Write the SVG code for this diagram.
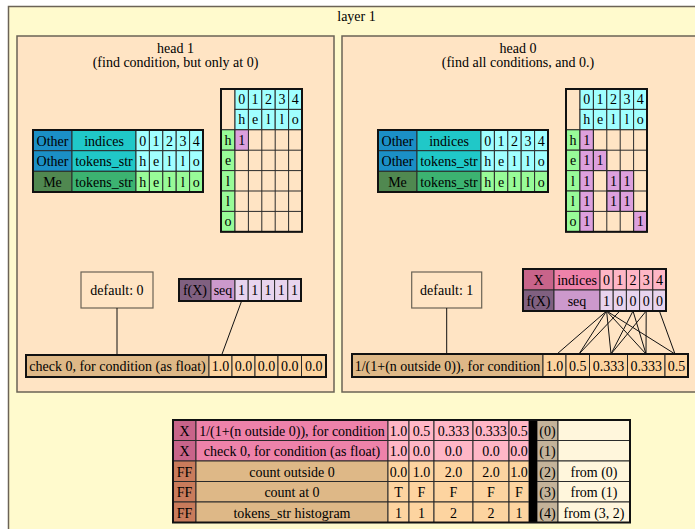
<svg xmlns="http://www.w3.org/2000/svg" width="695" height="529" viewBox="0 0 695 529">
<style>
text{font-family:"Liberation Serif","Times New Roman",serif;font-size:14px;fill:#000;text-anchor:middle}
.c{stroke:#2a2a2a;stroke-width:1}
.o{fill:none;stroke:#111;stroke-width:2}
.cl{stroke:#6b6356;stroke-width:1.5}
.e{stroke:#111;stroke-width:1;fill:none}
.oth{fill:#1b8fc6}.ind{fill:#20c8c8}.cy{fill:#a0ffff}
.me{fill:#508850}.mel{fill:#3cb371}.gr{fill:#98fb98}
.pl{fill:#dda0dd}.bq{fill:#ffe4c4}
.fx{fill:#806080}.sq{fill:#cc99cc}.lv{fill:#e8d4ee}
.x{fill:#c8648a}.xl{fill:#ee82aa}.xv{fill:#ffb6c6}
.ff{fill:#c97b5b}.tan{fill:#deb887}.or{fill:#fdd4a0}
.ix{fill:#c4b39a}.fr{fill:#fff6dc}
</style>
<rect width="695" height="529" fill="#fff"/>
<g id="layer1">
<rect x="8.5" y="6.5" width="700" height="540" fill="#fffacd" class="cl"/>
<text x="356.5" y="21">layer 1</text>
</g>
<g id="head1">
<rect x="17" y="36" width="317" height="356" fill="#ffe4c4" class="cl"/>
<text x="175.5" y="53">head 1</text>
<text x="175.5" y="67">(find condition, but only at 0)</text>
</g>
<g id="head0">
<rect x="342" y="36" width="360" height="356" fill="#ffe4c4" class="cl"/>
<text x="518" y="53">head 0</text>
<text x="518" y="67">(find all conditions, and 0.)</text>
</g>

<g id="h1_inputs">
<rect x="33" y="130" width="39" height="20.7" class="oth c"/><text x="52.5" y="145.5">Other</text>
<rect x="72" y="130" width="64" height="20.7" class="ind c"/><text x="104" y="145.5">indices</text>
<rect x="136" y="130" width="13.4" height="20.7" class="cy c"/><text x="142.7" y="145.5">0</text>
<rect x="149.4" y="130" width="13.4" height="20.7" class="cy c"/><text x="156.1" y="145.5">1</text>
<rect x="162.8" y="130" width="13.4" height="20.7" class="cy c"/><text x="169.5" y="145.5">2</text>
<rect x="176.2" y="130" width="13.4" height="20.7" class="cy c"/><text x="182.9" y="145.5">3</text>
<rect x="189.6" y="130" width="13.4" height="20.7" class="cy c"/><text x="196.3" y="145.5">4</text>
<rect x="33" y="150.7" width="39" height="20.6" class="oth c"/><text x="52.5" y="166">Other</text>
<rect x="72" y="150.7" width="64" height="20.6" class="ind c"/><text x="104" y="166">tokens_str</text>
<rect x="136" y="150.7" width="13.4" height="20.6" class="cy c"/><text x="142.7" y="166">h</text>
<rect x="149.4" y="150.7" width="13.4" height="20.6" class="cy c"/><text x="156.1" y="166">e</text>
<rect x="162.8" y="150.7" width="13.4" height="20.6" class="cy c"/><text x="169.5" y="166">l</text>
<rect x="176.2" y="150.7" width="13.4" height="20.6" class="cy c"/><text x="182.9" y="166">l</text>
<rect x="189.6" y="150.7" width="13.4" height="20.6" class="cy c"/><text x="196.3" y="166">o</text>
<rect x="33" y="171.3" width="39" height="20.7" class="me c"/><text x="52.5" y="186.5">Me</text>
<rect x="72" y="171.3" width="64" height="20.7" class="mel c"/><text x="104" y="186.5">tokens_str</text>
<rect x="136" y="171.3" width="13.4" height="20.7" class="gr c"/><text x="142.7" y="186.5">h</text>
<rect x="149.4" y="171.3" width="13.4" height="20.7" class="gr c"/><text x="156.1" y="186.5">e</text>
<rect x="162.8" y="171.3" width="13.4" height="20.7" class="gr c"/><text x="169.5" y="186.5">l</text>
<rect x="176.2" y="171.3" width="13.4" height="20.7" class="gr c"/><text x="182.9" y="186.5">l</text>
<rect x="189.6" y="171.3" width="13.4" height="20.7" class="gr c"/><text x="196.3" y="186.5">o</text>
<rect x="33" y="130" width="170" height="62" class="o"/>
</g>

<g id="h1_matrix">
<rect x="221" y="89" width="14" height="40.8" class="bq c"/>
<rect x="235" y="89" width="13.4" height="20.4" class="cy c"/><text x="241.7" y="104">0</text>
<rect x="248.4" y="89" width="13.4" height="20.4" class="cy c"/><text x="255.1" y="104">1</text>
<rect x="261.8" y="89" width="13.4" height="20.4" class="cy c"/><text x="268.5" y="104">2</text>
<rect x="275.2" y="89" width="13.4" height="20.4" class="cy c"/><text x="281.9" y="104">3</text>
<rect x="288.6" y="89" width="13.4" height="20.4" class="cy c"/><text x="295.3" y="104">4</text>
<rect x="235" y="109.4" width="13.4" height="20.4" class="cy c"/><text x="241.7" y="124.4">h</text>
<rect x="248.4" y="109.4" width="13.4" height="20.4" class="cy c"/><text x="255.1" y="124.4">e</text>
<rect x="261.8" y="109.4" width="13.4" height="20.4" class="cy c"/><text x="268.5" y="124.4">l</text>
<rect x="275.2" y="109.4" width="13.4" height="20.4" class="cy c"/><text x="281.9" y="124.4">l</text>
<rect x="288.6" y="109.4" width="13.4" height="20.4" class="cy c"/><text x="295.3" y="124.4">o</text>
<rect x="221" y="129.8" width="14" height="20.4" class="gr c"/><text x="228" y="144.8">h</text>
<rect x="221" y="150.2" width="14" height="20.4" class="gr c"/><text x="228" y="165.2">e</text>
<rect x="221" y="170.6" width="14" height="20.4" class="gr c"/><text x="228" y="185.6">l</text>
<rect x="221" y="191" width="14" height="20.4" class="gr c"/><text x="228" y="206">l</text>
<rect x="221" y="211.4" width="14" height="20.4" class="gr c"/><text x="228" y="226.4">o</text>
<rect x="235" y="129.8" width="67" height="102" class="bq c"/>
<path class="c" fill="none" d="M248.4 129.8V231.8M261.8 129.8V231.8M275.2 129.8V231.8M288.6 129.8V231.8M235 150.2H302M235 170.6H302M235 191H302M235 211.4H302"/>
<rect x="235" y="129.8" width="13.4" height="20.4" class="pl c"/><text x="241.7" y="144.8">1</text>
<rect x="221" y="89" width="81" height="142.8" class="o"/>
</g>

<g id="h1_default">
<rect x="81" y="272" width="72" height="36" class="bq" stroke="#6b6356" stroke-width="1.2"/>
<text x="117" y="294.5">default: 0</text>
</g>

<g id="h1_fx">
<rect x="179" y="279" width="32" height="22" class="fx c"/><text x="195" y="295">f(X)</text>
<rect x="211" y="279" width="24" height="22" class="sq c"/><text x="223" y="295">seq</text>
<rect x="235" y="279" width="13.2" height="22" class="lv c"/><text x="241.6" y="295">1</text>
<rect x="248.2" y="279" width="13.2" height="22" class="lv c"/><text x="254.8" y="295">1</text>
<rect x="261.4" y="279" width="13.2" height="22" class="lv c"/><text x="268" y="295">1</text>
<rect x="274.6" y="279" width="13.2" height="22" class="lv c"/><text x="281.2" y="295">1</text>
<rect x="287.8" y="279" width="13.2" height="22" class="lv c"/><text x="294.4" y="295">1</text>
<rect x="179" y="279" width="122" height="22" class="o"/>
</g>

<g id="h1_result">
<rect x="26" y="355" width="183" height="22" class="tan c"/><text x="117.5" y="371">check 0, for condition (as float)</text>
<rect x="209" y="355" width="23" height="22" class="or c"/><text x="220.5" y="371">1.0</text>
<rect x="232" y="355" width="23" height="22" class="or c"/><text x="243.5" y="371">0.0</text>
<rect x="255" y="355" width="23" height="22" class="or c"/><text x="266.5" y="371">0.0</text>
<rect x="278" y="355" width="23.5" height="22" class="or c"/><text x="289.75" y="371">0.0</text>
<rect x="301.5" y="355" width="24.5" height="22" class="or c"/><text x="313.75" y="371">0.0</text>
<rect x="26" y="355" width="300" height="22" class="o"/>
</g>

<g id="h0_inputs">
<rect x="378" y="130" width="39" height="20.7" class="oth c"/><text x="397.5" y="145.5">Other</text>
<rect x="417" y="130" width="64" height="20.7" class="ind c"/><text x="449" y="145.5">indices</text>
<rect x="481" y="130" width="13.4" height="20.7" class="cy c"/><text x="487.7" y="145.5">0</text>
<rect x="494.4" y="130" width="13.4" height="20.7" class="cy c"/><text x="501.1" y="145.5">1</text>
<rect x="507.8" y="130" width="13.4" height="20.7" class="cy c"/><text x="514.5" y="145.5">2</text>
<rect x="521.2" y="130" width="13.4" height="20.7" class="cy c"/><text x="527.9" y="145.5">3</text>
<rect x="534.6" y="130" width="13.4" height="20.7" class="cy c"/><text x="541.3" y="145.5">4</text>
<rect x="378" y="150.7" width="39" height="20.6" class="oth c"/><text x="397.5" y="166">Other</text>
<rect x="417" y="150.7" width="64" height="20.6" class="ind c"/><text x="449" y="166">tokens_str</text>
<rect x="481" y="150.7" width="13.4" height="20.6" class="cy c"/><text x="487.7" y="166">h</text>
<rect x="494.4" y="150.7" width="13.4" height="20.6" class="cy c"/><text x="501.1" y="166">e</text>
<rect x="507.8" y="150.7" width="13.4" height="20.6" class="cy c"/><text x="514.5" y="166">l</text>
<rect x="521.2" y="150.7" width="13.4" height="20.6" class="cy c"/><text x="527.9" y="166">l</text>
<rect x="534.6" y="150.7" width="13.4" height="20.6" class="cy c"/><text x="541.3" y="166">o</text>
<rect x="378" y="171.3" width="39" height="20.7" class="me c"/><text x="397.5" y="186.5">Me</text>
<rect x="417" y="171.3" width="64" height="20.7" class="mel c"/><text x="449" y="186.5">tokens_str</text>
<rect x="481" y="171.3" width="13.4" height="20.7" class="gr c"/><text x="487.7" y="186.5">h</text>
<rect x="494.4" y="171.3" width="13.4" height="20.7" class="gr c"/><text x="501.1" y="186.5">e</text>
<rect x="507.8" y="171.3" width="13.4" height="20.7" class="gr c"/><text x="514.5" y="186.5">l</text>
<rect x="521.2" y="171.3" width="13.4" height="20.7" class="gr c"/><text x="527.9" y="186.5">l</text>
<rect x="534.6" y="171.3" width="13.4" height="20.7" class="gr c"/><text x="541.3" y="186.5">o</text>
<rect x="378" y="130" width="170" height="62" class="o"/>
</g>

<g id="h0_matrix">
<rect x="566" y="89" width="14" height="40.8" class="bq c"/>
<rect x="580" y="89" width="13.4" height="20.4" class="cy c"/><text x="586.7" y="104">0</text>
<rect x="593.4" y="89" width="13.4" height="20.4" class="cy c"/><text x="600.1" y="104">1</text>
<rect x="606.8" y="89" width="13.4" height="20.4" class="cy c"/><text x="613.5" y="104">2</text>
<rect x="620.2" y="89" width="13.4" height="20.4" class="cy c"/><text x="626.9" y="104">3</text>
<rect x="633.6" y="89" width="13.4" height="20.4" class="cy c"/><text x="640.3" y="104">4</text>
<rect x="580" y="109.4" width="13.4" height="20.4" class="cy c"/><text x="586.7" y="124.4">h</text>
<rect x="593.4" y="109.4" width="13.4" height="20.4" class="cy c"/><text x="600.1" y="124.4">e</text>
<rect x="606.8" y="109.4" width="13.4" height="20.4" class="cy c"/><text x="613.5" y="124.4">l</text>
<rect x="620.2" y="109.4" width="13.4" height="20.4" class="cy c"/><text x="626.9" y="124.4">l</text>
<rect x="633.6" y="109.4" width="13.4" height="20.4" class="cy c"/><text x="640.3" y="124.4">o</text>
<rect x="566" y="129.8" width="14" height="20.4" class="gr c"/><text x="573" y="144.8">h</text>
<rect x="566" y="150.2" width="14" height="20.4" class="gr c"/><text x="573" y="165.2">e</text>
<rect x="566" y="170.6" width="14" height="20.4" class="gr c"/><text x="573" y="185.6">l</text>
<rect x="566" y="191" width="14" height="20.4" class="gr c"/><text x="573" y="206">l</text>
<rect x="566" y="211.4" width="14" height="20.4" class="gr c"/><text x="573" y="226.4">o</text>
<rect x="580" y="129.8" width="67" height="102" class="bq c"/>
<g class="pl c">
<rect x="580" y="129.8" width="13.4" height="20.4"/>
<rect x="580" y="150.2" width="13.4" height="20.4"/>
<rect x="593.4" y="150.2" width="13.4" height="20.4"/>
<rect x="580" y="170.6" width="13.4" height="20.4"/>
<rect x="606.8" y="170.6" width="13.4" height="20.4"/>
<rect x="620.2" y="170.6" width="13.4" height="20.4"/>
<rect x="580" y="191" width="13.4" height="20.4"/>
<rect x="606.8" y="191" width="13.4" height="20.4"/>
<rect x="620.2" y="191" width="13.4" height="20.4"/>
<rect x="580" y="211.4" width="13.4" height="20.4"/>
<rect x="633.6" y="211.4" width="13.4" height="20.4"/>
</g>
<path class="c" fill="none" d="M593.4 129.8V231.8M606.8 129.8V231.8M620.2 129.8V231.8M633.6 129.8V231.8M580 150.2H647M580 170.6H647M580 191H647M580 211.4H647"/>
<text x="586.7" y="144.8">1</text>
<text x="586.7" y="165.2">1</text><text x="600.1" y="165.2">1</text>
<text x="586.7" y="185.6">1</text><text x="613.5" y="185.6">1</text><text x="626.9" y="185.6">1</text>
<text x="586.7" y="206">1</text><text x="613.5" y="206">1</text><text x="626.9" y="206">1</text>
<text x="586.7" y="226.4">1</text><text x="640.3" y="226.4">1</text>
<rect x="566" y="89" width="81" height="142.8" class="o"/>
</g>

<g id="h0_default">
<rect x="411.7" y="272" width="70" height="36" class="bq" stroke="#6b6356" stroke-width="1.2"/>
<text x="446.7" y="294.5">default: 1</text>
</g>

<g id="h0_fx">
<rect x="523" y="269" width="31" height="21" class="x c"/><text x="538.5" y="284.5">X</text>
<rect x="554" y="269" width="46" height="21" class="xl c"/><text x="577" y="284.5">indices</text>
<rect x="600" y="269" width="13.2" height="21" class="xv c"/><text x="606.6" y="284.5">0</text>
<rect x="613.2" y="269" width="13.2" height="21" class="xv c"/><text x="619.8" y="284.5">1</text>
<rect x="626.4" y="269" width="13.2" height="21" class="xv c"/><text x="633" y="284.5">2</text>
<rect x="639.6" y="269" width="13.2" height="21" class="xv c"/><text x="646.2" y="284.5">3</text>
<rect x="652.8" y="269" width="13.2" height="21" class="xv c"/><text x="659.4" y="284.5">4</text>
<rect x="523" y="290" width="31" height="21" class="fx c"/><text x="538.5" y="305.5">f(X)</text>
<rect x="554" y="290" width="46" height="21" class="sq c"/><text x="577" y="305.5">seq</text>
<rect x="600" y="290" width="13.2" height="21" class="lv c"/><text x="606.6" y="305.5">1</text>
<rect x="613.2" y="290" width="13.2" height="21" class="lv c"/><text x="619.8" y="305.5">0</text>
<rect x="626.4" y="290" width="13.2" height="21" class="lv c"/><text x="633" y="305.5">0</text>
<rect x="639.6" y="290" width="13.2" height="21" class="lv c"/><text x="646.2" y="305.5">0</text>
<rect x="652.8" y="290" width="13.2" height="21" class="lv c"/><text x="659.4" y="305.5">0</text>
<rect x="523" y="269" width="143" height="42" class="o"/>
</g>

<g id="h0_result">
<rect x="352" y="354" width="191" height="23" class="tan c"/><text x="447.5" y="370.5">1/(1+(n outside 0)), for condition</text>
<rect x="543" y="354" width="23" height="23" class="or c"/><text x="554.5" y="370.5">1.0</text>
<rect x="566" y="354" width="23.5" height="23" class="or c"/><text x="577.75" y="370.5">0.5</text>
<rect x="589.5" y="354" width="38" height="23" class="or c"/><text x="608.5" y="370.5">0.333</text>
<rect x="627.5" y="354" width="37.5" height="23" class="or c"/><text x="646.25" y="370.5">0.333</text>
<rect x="665" y="354" width="23" height="23" class="or c"/><text x="676.5" y="370.5">0.5</text>
<rect x="352" y="354" width="336" height="23" class="o"/>
</g>

<g id="connectors" class="e">
<path d="M117 308V355"/>
<path d="M241.6 301L221.7 355"/>
<path d="M446.7 308V354"/>
<path d="M606.6 311L557 354"/>
<path d="M606.6 311L579 354"/>
<path d="M606.6 311L611 354"/>
<path d="M606.6 311L646 354"/>
<path d="M606.6 311L675 354"/>
<path d="M619.8 311L579 354"/>
<path d="M633 311L611 354"/>
<path d="M633 311L646 354"/>
<path d="M646.2 311L611 354"/>
<path d="M646.2 311L646 354"/>
<path d="M659.4 311L675 354"/>
</g>

<g id="summary">
<rect x="173" y="420" width="23" height="20.5" class="x c"/><text x="184.5" y="435.5">X</text>
<rect x="196" y="420" width="192" height="20.5" class="xl c"/><text x="292" y="435.5">1/(1+(n outside 0)), for condition</text>
<rect x="388" y="420" width="21" height="20.5" class="xv c"/><text x="398.5" y="435.5">1.0</text>
<rect x="409" y="420" width="25" height="20.5" class="xv c"/><text x="421.5" y="435.5">0.5</text>
<rect x="434" y="420" width="39" height="20.5" class="xv c"/><text x="453.5" y="435.5">0.333</text>
<rect x="473" y="420" width="36" height="20.5" class="xv c"/><text x="491" y="435.5">0.333</text>
<rect x="509" y="420" width="20" height="20.5" class="xv c"/><text x="519" y="435.5">0.5</text>
<rect x="537" y="420" width="21" height="20.5" class="ix c"/><text x="547.5" y="435.5">(0)</text>
<rect x="558" y="420" width="72" height="20.5" class="fr c"/>

<rect x="173" y="440.5" width="23" height="20.5" class="x c"/><text x="184.5" y="456">X</text>
<rect x="196" y="440.5" width="192" height="20.5" class="xl c"/><text x="292" y="456">check 0, for condition (as float)</text>
<rect x="388" y="440.5" width="21" height="20.5" class="xv c"/><text x="398.5" y="456">1.0</text>
<rect x="409" y="440.5" width="25" height="20.5" class="xv c"/><text x="421.5" y="456">0.0</text>
<rect x="434" y="440.5" width="39" height="20.5" class="xv c"/><text x="453.5" y="456">0.0</text>
<rect x="473" y="440.5" width="36" height="20.5" class="xv c"/><text x="491" y="456">0.0</text>
<rect x="509" y="440.5" width="20" height="20.5" class="xv c"/><text x="519" y="456">0.0</text>
<rect x="537" y="440.5" width="21" height="20.5" class="ix c"/><text x="547.5" y="456">(1)</text>
<rect x="558" y="440.5" width="72" height="20.5" class="fr c"/>

<rect x="173" y="461" width="23" height="20.5" class="ff c"/><text x="184.5" y="476.5">FF</text>
<rect x="196" y="461" width="192" height="20.5" class="tan c"/><text x="292" y="476.5">count outside 0</text>
<rect x="388" y="461" width="21" height="20.5" class="or c"/><text x="398.5" y="476.5">0.0</text>
<rect x="409" y="461" width="25" height="20.5" class="or c"/><text x="421.5" y="476.5">1.0</text>
<rect x="434" y="461" width="39" height="20.5" class="or c"/><text x="453.5" y="476.5">2.0</text>
<rect x="473" y="461" width="36" height="20.5" class="or c"/><text x="491" y="476.5">2.0</text>
<rect x="509" y="461" width="20" height="20.5" class="or c"/><text x="519" y="476.5">1.0</text>
<rect x="537" y="461" width="21" height="20.5" class="ix c"/><text x="547.5" y="476.5">(2)</text>
<rect x="558" y="461" width="72" height="20.5" class="fr c"/><text x="594" y="476.5">from (0)</text>

<rect x="173" y="481.5" width="23" height="20.5" class="ff c"/><text x="184.5" y="497">FF</text>
<rect x="196" y="481.5" width="192" height="20.5" class="tan c"/><text x="292" y="497">count at 0</text>
<rect x="388" y="481.5" width="21" height="20.5" class="or c"/><text x="398.5" y="497">T</text>
<rect x="409" y="481.5" width="25" height="20.5" class="or c"/><text x="421.5" y="497">F</text>
<rect x="434" y="481.5" width="39" height="20.5" class="or c"/><text x="453.5" y="497">F</text>
<rect x="473" y="481.5" width="36" height="20.5" class="or c"/><text x="491" y="497">F</text>
<rect x="509" y="481.5" width="20" height="20.5" class="or c"/><text x="519" y="497">F</text>
<rect x="537" y="481.5" width="21" height="20.5" class="ix c"/><text x="547.5" y="497">(3)</text>
<rect x="558" y="481.5" width="72" height="20.5" class="fr c"/><text x="594" y="497">from (1)</text>

<rect x="173" y="502" width="23" height="20.5" class="ff c"/><text x="184.5" y="517.5">FF</text>
<rect x="196" y="502" width="192" height="20.5" class="tan c"/><text x="292" y="517.5">tokens_str histogram</text>
<rect x="388" y="502" width="21" height="20.5" class="or c"/><text x="398.5" y="517.5">1</text>
<rect x="409" y="502" width="25" height="20.5" class="or c"/><text x="421.5" y="517.5">1</text>
<rect x="434" y="502" width="39" height="20.5" class="or c"/><text x="453.5" y="517.5">2</text>
<rect x="473" y="502" width="36" height="20.5" class="or c"/><text x="491" y="517.5">2</text>
<rect x="509" y="502" width="20" height="20.5" class="or c"/><text x="519" y="517.5">1</text>
<rect x="537" y="502" width="21" height="20.5" class="ix c"/><text x="547.5" y="517.5">(4)</text>
<rect x="558" y="502" width="72" height="20.5" class="fr c"/><text x="594" y="517.5">from (3, 2)</text>

<rect x="529" y="420" width="8" height="102.5" fill="#000"/>
<rect x="173" y="420" width="457" height="102.5" class="o"/>
</g>
</svg>
